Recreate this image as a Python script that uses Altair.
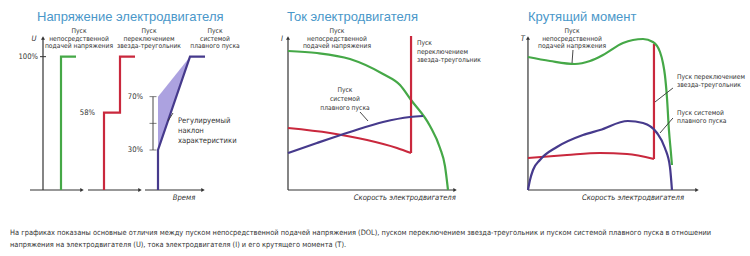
import altair as alt
import pandas as pd

GREEN = "#45a847"
RED = "#c9283d"
PURPLE = "#463a8c"
SHADE = "#9d92da"
INK = "#333333"
TITLE_BLUE = "#4a97c9"
FONT = "DejaVu Sans Condensed, Liberation Sans Narrow, sans-serif"
TITLE_FONT = "Liberation Sans, Arial, sans-serif"

Y_DOMAIN = [-11.25, 123.75]
PANEL_H = 180

# ---------------- Panel 1: voltage vs time (U, %) ----------------
u_dol_t = [1.8, 1.8, 3.3]
u_dol_v = [0, 100, 100]
u_yd_t = [6.1, 6.1, 7.7, 7.7, 9.2]
u_yd_v = [0, 58, 58, 100, 100]
u_ss_t = [11.5, 11.5, 14.7, 16.2]
u_ss_v = [0, 30, 100, 100]
u_band_t = [11.5, 14.7]
u_band_low = [30, 100]
u_band_high = [70, 100]
u_range_t = 11.0
u_range_ticks = [30, 50, 70]
u_pct_labels = ["100%", "58%", "70%", "30%"]
u_pct_t = [-0.5, 5.2, 10.0, 10.0]
u_pct_v = [100, 58, 70, 30]
u_axis_segments = [(-1.3, 3.9), (4.5, 9.7), (10.2, 16.0)]
u_top = 114

# ---------------- Panel 2: current vs speed (I) ----------------
i_dol_s = [0, 18.1, 38.75, 59.4, 70, 76.9, 88.75, 95, 98.1, 100]
i_dol_v = [104.25, 102.75, 98.25, 87, 78.75, 67.5, 48, 31.5, 18, 0]
i_yd_s = [0, 26.25, 49.4, 68.1, 76.9]
i_yd_v = [46.5, 42.75, 37.5, 31.5, 27.75]
i_yd_jump_top = 115.5
i_ss_s = [0, 18.1, 38.75, 59.4, 76.25, 84.4]
i_ss_v = [27.75, 35.25, 43.5, 51, 54.75, 55.5]
i_axis_end = 104.4

# ---------------- Panel 3: torque vs speed (T) ----------------
t_dol_s = [0, 15.3, 32.6, 43.1, 52.1, 66.0, 79.9, 86.8, 91.7, 93.75, 95.1, 96.5, 97.9, 99.3, 100]
t_dol_v = [99.75, 96.75, 94.5, 96.75, 101.25, 110.25, 113.25, 111, 103.5, 95.25, 86.25, 69.75, 45, 27.75, 18.75]
t_yd_s = [0, 27.1, 50, 68.75, 87.5]
t_yd_v = [24, 26.25, 27.75, 27, 23.25]
t_yd_jump_top = 109.5
t_ss_s = [0, 1.4, 3.5, 8.3, 20.1, 38.2, 50, 69.4, 79.9, 89.6, 95.1, 98.6, 100]
t_ss_v = [0, 7.5, 15, 22.5, 32.25, 41.25, 45, 51.75, 50.25, 42.75, 31.5, 17.25, 0]
t_axis_end = 117.4

# ---------------- Texts ----------------
lbl_dol = ["Пуск", "непосредственной", "подачей напряжения"]
lbl_yd = ["Пуск", "переключением", "звезда-треугольник"]
lbl_ss = ["Пуск", "системой", "плавного пуска"]
lbl_yd2 = ["Пуск переключением", "звезда-треугольник"]
lbl_ss2 = ["Пуск системой", "плавного пуска"]
lbl_slope = ["Регулируемый", "наклон", "характеристики"]
head_v = [119, 113.5, 108]

titles = ["Напряжение электродвигателя", "Ток электродвигателя", "Крутящий момент"]
x_names = ["Время", "Скорость электродвигателя", "Скорость электродвигателя"]
caption = [
    "На графиках показаны основные отличия между пуском непосредственной подачей напряжения (DOL), пуском переключением звезда-треугольник и пуском системой плавного пуска в отношении",
    "напряжения на электродвигателя (U), тока электродвигателя (I) и его крутящего момента (T).",
]

LBL = 6.7
LBL2 = 7.6


def enc_xy(xdom):
    x = alt.X("x:Q", scale=alt.Scale(domain=xdom, nice=False, zero=False), axis=None)
    y = alt.Y("y:Q", scale=alt.Scale(domain=Y_DOMAIN, nice=False, zero=False), axis=None)
    return x, y


def line(xdom, xs, ys, color, interp="monotone", width=2.2):
    x, y = enc_xy(xdom)
    df = pd.DataFrame({"x": xs, "y": ys, "o": list(range(len(xs)))})
    return alt.Chart(df).mark_line(color=color, strokeWidth=width, interpolate=interp).encode(
        x=x, y=y, order="o:Q")


def vrule(xdom, xv, y0, y1, color, width=2.2):
    x, y = enc_xy(xdom)
    df = pd.DataFrame({"x": [xv], "y": [y0], "y2": [y1]})
    return alt.Chart(df).mark_rule(color=color, strokeWidth=width).encode(x=x, y=y, y2="y2:Q")


def hrule(xdom, x0, x1, yv, color, width=1.2):
    x, y = enc_xy(xdom)
    df = pd.DataFrame({"x": [x0], "x2": [x1], "y": [yv]})
    return alt.Chart(df).mark_rule(color=color, strokeWidth=width).encode(x=x, x2="x2:Q", y=y)


def seg(xdom, x0, y0, x1, y1, color=INK, width=0.9):
    return line(xdom, [x0, x1], [y0, y1], color, interp="linear", width=width)


def arrows(xdom, pts, shape):
    x, y = enc_xy(xdom)
    df = pd.DataFrame({"x": [p[0] for p in pts], "y": [p[1] for p in pts]})
    return alt.Chart(df).mark_point(shape=shape, filled=True, color=INK, size=16, opacity=1).encode(x=x, y=y)


def texts(xdom, xs, ys, labels, align="center", size=LBL, italic=False, color=INK):
    x, y = enc_xy(xdom)
    df = pd.DataFrame({"x": xs, "y": ys, "t": labels})
    kw = dict(align=align, baseline="middle", font=FONT, fontSize=size, color=color)
    if italic:
        kw["fontStyle"] = "italic"
    return alt.Chart(df).mark_text(**kw).encode(x=x, y=y, text="t:N")


def ptitle(text, dx):
    return alt.TitleParams(text=text, anchor="start", dx=dx, fontSize=13, font=TITLE_FONT,
                           fontWeight="normal", color=TITLE_BLUE, offset=1, baseline="top")


# ---------- Panel 1 ----------
xd1 = [-4.3, 20.2]
x1, y1 = enc_xy(xd1)
band = alt.Chart(pd.DataFrame({"x": u_band_t, "y": u_band_low, "y2": u_band_high})).mark_area(
    color=SHADE, opacity=0.85, interpolate="linear").encode(x=x1, y=y1, y2="y2:Q")
range_ticks = alt.Chart(pd.DataFrame({"x": [u_range_t] * 3, "y": u_range_ticks})).mark_tick(
    color=INK, orient="horizontal", size=7, thickness=0.9).encode(x=x1, y=y1)
p1_layers = [band,
             vrule(xd1, 0, 0, u_top, INK, 1.2),
             arrows(xd1, [(0, u_top)], "triangle-up")]
for a, b in u_axis_segments:
    p1_layers.append(hrule(xd1, a, b, 0, INK))
p1_layers += [
    arrows(xd1, [(b, 0) for _, b in u_axis_segments], "triangle-right"),
    hrule(xd1, -0.3, 0.3, 100, INK, 1),
    vrule(xd1, u_range_t, 30, 70, INK, 0.9),
    range_ticks,
    line(xd1, u_dol_t, u_dol_v, GREEN, "linear"),
    line(xd1, u_yd_t, u_yd_v, RED, "linear"),
    line(xd1, u_ss_t, u_ss_v, PURPLE, "linear"),
    seg(xd1, 12.5, 51.75, 13.0, 57.75),
    texts(xd1, u_pct_t, u_pct_v, u_pct_labels, align="right", size=LBL2),
    texts(xd1, [-0.9], [113.25], ["U"], italic=True, size=LBL2),
    texts(xd1, [3.6] * 3, head_v, lbl_dol),
    texts(xd1, [10.6] * 3, head_v, lbl_yd),
    texts(xd1, [17.2] * 3, head_v, lbl_ss),
    texts(xd1, [13.5] * 3, [51.75, 44.25, 36.75], lbl_slope, align="left", size=LBL2),
    texts(xd1, [14.1], [-6], [x_names[0]], italic=True, size=LBL2),
]
p1 = alt.layer(*p1_layers).properties(width=245, height=PANEL_H, title=ptitle(titles[0], 37))

# ---------- Panel 2 ----------
xd2 = [-26.875, 129.375]
p2 = alt.layer(
    vrule(xd2, 0, 0, 114, INK, 1.2),
    hrule(xd2, 0, i_axis_end, 0, INK),
    arrows(xd2, [(0, 114)], "triangle-up"),
    arrows(xd2, [(i_axis_end, 0)], "triangle-right"),
    line(xd2, i_dol_s, i_dol_v, GREEN),
    line(xd2, i_yd_s, i_yd_v, RED),
    vrule(xd2, i_yd_s[-1], i_yd_v[-1], i_yd_jump_top, RED),
    line(xd2, i_ss_s, i_ss_v, PURPLE),
    seg(xd2, 45, 58.5, 50, 51.75),
    texts(xd2, [-3.75], [113.25], ["I"], italic=True, size=LBL2),
    texts(xd2, [30.6] * 3, head_v, lbl_dol),
    texts(xd2, [80.6] * 3, [110.25, 103.5, 97.5], lbl_yd, align="left"),
    texts(xd2, [35.6] * 3, [75, 68.25, 61.5], lbl_ss),
    texts(xd2, [73], [-6], [x_names[1]], italic=True, size=LBL2),
).properties(width=250, height=PANEL_H, title=ptitle(titles[1], 42))

# ---------- Panel 3 ----------
xd3 = [-22.9, 154.2]
p3 = alt.layer(
    vrule(xd3, 0, 0, 114, INK, 1.2),
    hrule(xd3, 0, t_axis_end, 0, INK),
    arrows(xd3, [(0, 114)], "triangle-up"),
    arrows(xd3, [(t_axis_end, 0)], "triangle-right"),
    line(xd3, t_yd_s, t_yd_v, RED),
    vrule(xd3, t_yd_s[-1], t_yd_v[-1], t_yd_jump_top, RED),
    line(xd3, t_dol_s, t_dol_v, GREEN),
    line(xd3, t_ss_s, t_ss_v, PURPLE),
    seg(xd3, 31.25, 105, 30.6, 95.25),
    seg(xd3, 100.7, 76.5, 88.2, 66),
    seg(xd3, 100.7, 54, 91.7, 42.75),
    texts(xd3, [-3.5], [113.25], ["T"], italic=True, size=LBL2),
    texts(xd3, [30.6] * 3, head_v, lbl_dol),
    texts(xd3, [103.5] * 2, [84.75, 78.75], lbl_yd2, align="left"),
    texts(xd3, [103.5] * 2, [57.75, 51.75], lbl_ss2, align="left"),
    texts(xd3, [72.9], [-6], [x_names[2]], italic=True, size=LBL2),
).properties(width=255, height=PANEL_H, title=ptitle(titles[2], 33))

chart = alt.hconcat(p1, p2, p3, spacing=0).properties(
    padding={"left": 0, "top": 11, "right": 0, "bottom": 0},
    title=alt.TitleParams(text=caption, orient="bottom", anchor="start", dx=10, offset=24,
                          fontSize=7.4, font=FONT, fontWeight="normal", color=INK,
                          lineHeight=12, baseline="top"),
).configure_view(stroke=None)

chart.save("out.html", embed_options={"renderer": "svg", "actions": False})
